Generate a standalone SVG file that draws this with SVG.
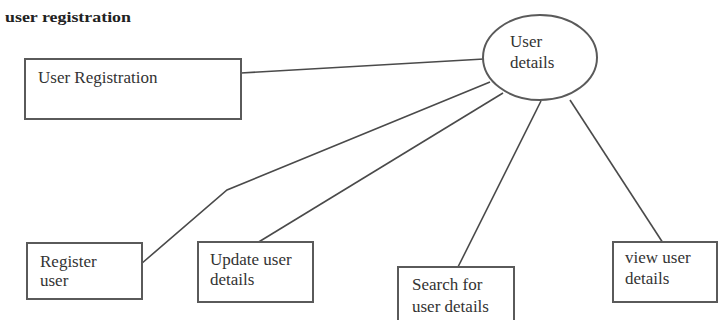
<svg xmlns="http://www.w3.org/2000/svg" width="718" height="320" viewBox="0 0 718 320">
<style>
.box{fill:#fff;stroke:#5a5a5a;stroke-width:2}
.lbl{font-family:"Liberation Serif","Times New Roman",serif;font-size:17px;fill:#333}
.title{font-family:"Liberation Serif","Times New Roman",serif;font-size:14px;font-weight:bold;fill:#222}
.conn{fill:none;stroke:#4a4a4a;stroke-width:1.6}
</style>
<rect width="718" height="320" fill="#fff"/>
<text class="title" x="5" y="22" textLength="126" lengthAdjust="spacingAndGlyphs">user registration</text>
<g id="connectors">
<line class="conn" x1="241" y1="73" x2="484" y2="59"/>
<polyline class="conn" points="141,264 227,190 490,82"/>
<line class="conn" x1="257" y1="243" x2="503" y2="93"/>
<line class="conn" x1="541" y1="101" x2="458" y2="267"/>
<line class="conn" x1="570" y1="100" x2="663" y2="243"/>
</g>
<g id="user-details">
<ellipse class="box" cx="540" cy="57.5" rx="57" ry="42.5"/>
<text class="lbl" x="510" y="47">User</text>
<text class="lbl" x="510" y="68">details</text>
</g>
<g id="user-registration">
<rect class="box" x="25" y="59" width="216" height="60"/>
<text class="lbl" x="38" y="83">User Registration</text>
</g>
<g id="register-user">
<rect class="box" x="27" y="243" width="115" height="56"/>
<text class="lbl" x="40" y="267">Register</text>
<text class="lbl" x="40" y="286">user</text>
</g>
<g id="update-user-details">
<rect class="box" x="198" y="242" width="115" height="60"/>
<text class="lbl" x="210" y="265">Update user</text>
<text class="lbl" x="210" y="285">details</text>
</g>
<g id="search-user-details">
<rect class="box" x="398" y="267" width="116" height="60"/>
<text class="lbl" x="412" y="290">Search for</text>
<text class="lbl" x="412" y="312">user details</text>
</g>
<g id="view-user-details">
<rect class="box" x="613" y="242" width="104" height="60"/>
<text class="lbl" x="625" y="263">view user</text>
<text class="lbl" x="625" y="284">details</text>
</g>
</svg>
